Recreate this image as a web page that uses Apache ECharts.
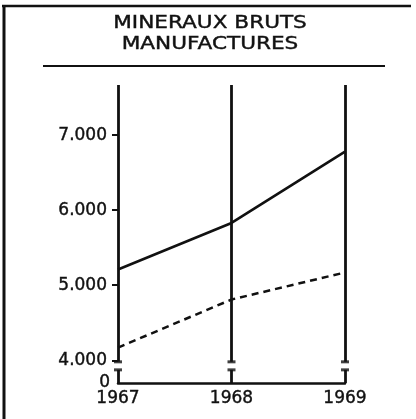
<!DOCTYPE html>
<html>
<head>
<meta charset="utf-8">
<script src="https://cdn.jsdelivr.net/npm/echarts@6/dist/echarts.min.js"></script>
<style>
  html, body { margin: 0; padding: 0; background: #fff; }
  #chart { width: 416px; height: 419px; }
</style>
</head>
<body>
<div id="chart"></div>
<script>
  // données
  const years = [1967, 1968, 1969];
  const mineraux = [5210, 5830, 6780]; // trait plein
  const manufactures = [4170, 4810, 5170]; // tirets
  const yTicks = [4000, 5000, 6000, 7000];
  const yLabels = [0, 4000, 5000, 6000, 7000];
  const titleLines = ['MINERAUX BRUTS', 'MANUFACTURES'];

  // coupure de l'axe entre 0 et 4.000
  const breakLow = 175;
  const breakHigh = 3980;
  const yMax = 7667;

  const FONT = 'DejaVu Sans, Verdana, sans-serif';
  const INK = '#111';

  const fmtY = (v) => (v === 0 ? '0' : '{n|' + v / 1000 + '.000}');

  const chart = echarts.init(document.getElementById('chart'));

  // traits verticaux (coupés) pour chaque année
  const stems = [];
  years.forEach((y) => {
    stems.push([{ coord: [y, 0] }, { coord: [y, breakLow] }]);
    stems.push([{ coord: [y, breakHigh] }, { coord: [y, yMax] }]);
  });
  const caps = [];
  years.forEach((y) => {
    caps.push([y, breakLow]);
    caps.push([y, breakHigh]);
  });

  const textStyle = {
    fontFamily: FONT,
    fontSize: 17,
    color: INK,
    textBorderColor: INK,
    textBorderWidth: 0.4,
  };

  const option = {
    animation: false,
    backgroundColor: '#fff',
    graphic: [
      // cadre
      { type: 'line', shape: { x1: 2, y1: 6, x2: 411, y2: 6 }, style: { stroke: INK, lineWidth: 2.5 } },
      { type: 'line', shape: { x1: 4, y1: 5, x2: 4, y2: 419 }, style: { stroke: INK, lineWidth: 3 } },
      // titre (lettres espacées)
      {
        type: 'text', x: 210, y: 24, scaleX: 1.27,
        style: { text: titleLines[0], font: '17px ' + FONT, fill: INK, stroke: INK, lineWidth: 0.4, textAlign: 'center', textVerticalAlign: 'middle' },
      },
      {
        type: 'text', x: 210, y: 44.5, scaleX: 1.27,
        style: { text: titleLines[1], font: '17px ' + FONT, fill: INK, stroke: INK, lineWidth: 0.4, textAlign: 'center', textVerticalAlign: 'middle' },
      },
      // trait sous le titre
      { type: 'line', shape: { x1: 43, y1: 66, x2: 385, y2: 66 }, style: { stroke: INK, lineWidth: 2 } },
    ],
    grid: { left: 118, right: 71, top: 85, bottom: 36 },
    xAxis: {
      type: 'value',
      min: 1967,
      max: 1969,
      interval: 1,
      axisLine: { show: true, lineStyle: { color: INK, width: 2.5 } },
      axisTick: { show: false },
      splitLine: { show: false },
      axisLabel: Object.assign({
        margin: 7,
        formatter: (v) => String(v),
        showMinLabel: true,
        showMaxLabel: true,
      }, textStyle),
    },
    yAxis: {
      type: 'value',
      min: 0,
      max: yMax,
      breaks: [{ start: breakLow, end: breakHigh, gap: 107 }],
      breakArea: { show: false },
      axisLine: { show: false },
      axisTick: {
        show: true,
        length: 6,
        customValues: yTicks,
        lineStyle: { color: INK, width: 2 },
      },
      splitLine: { show: false },
      axisLabel: Object.assign({
        customValues: yLabels,
        formatter: fmtY,
        margin: 8,
        rich: {
          n: Object.assign({ padding: [0, 3, 0, 0] }, textStyle),
        },
      }, textStyle),
    },
    series: [
      {
        type: 'line',
        data: years.map((y, i) => [y, mineraux[i]]),
        symbol: 'none',
        lineStyle: { color: INK, width: 2.6 },
        z: 3,
        markLine: {
          silent: true,
          symbol: 'none',
          label: { show: false },
          lineStyle: { color: INK, width: 2.8, type: 'solid' },
          data: stems,
        },
      },
      {
        type: 'line',
        data: years.map((y, i) => [y, manufactures[i]]),
        symbol: 'none',
        lineStyle: { color: INK, width: 2.5, type: [7, 5] },
        z: 3,
      },
      {
        type: 'scatter',
        data: caps,
        symbol: 'rect',
        symbolSize: [8, 3],
        itemStyle: { color: INK },
        silent: true,
      },
    ],
  };

  chart.setOption(option);
</script>
</body>
</html>
